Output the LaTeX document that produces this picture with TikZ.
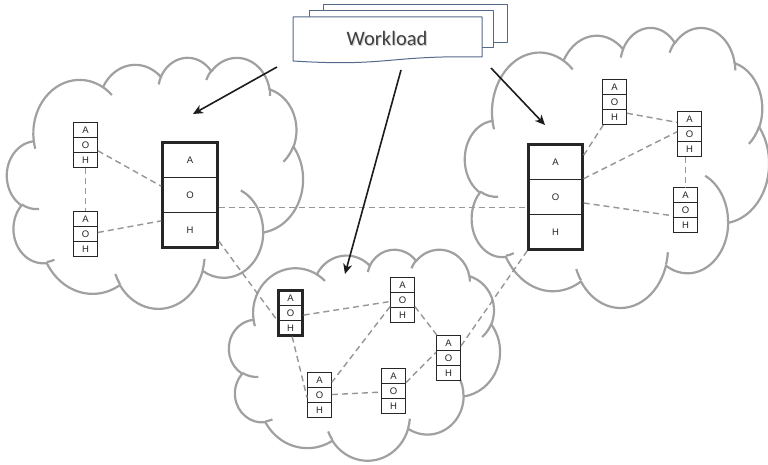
\documentclass[tikz,border=0pt]{standalone}
\usepackage{fontspec}
\setmainfont{Liberation Sans}
\newfontfamily\docfont{Carlito}
\usetikzlibrary{arrows.meta}

\definecolor{cloudgray}{RGB}{160,160,160}
\definecolor{linkgray}{RGB}{150,150,150}
\definecolor{docblue}{RGB}{84,106,140}
\definecolor{inkblack}{RGB}{28,28,28}
\definecolor{textgray}{RGB}{64,64,64}

% one elliptic arc of the cloud outline; the angles are given as the
% direction seen from the centre and turned into the ellipse parameter
\newcommand\carc[4]{arc[x radius=#1, y radius=#2, start angle={pa(#3,#1,#2)}, end angle={pa(#3+#4,#1,#2)}]}

% cloud filling the box with top left corner (#1,#2), width #3, height #4
\newcommand\cloudat[4]{%
  \begin{scope}[shift={(#1,#2)}, xscale=#3/432, yscale=#4/432]
    \filldraw[cloudline] (39.00,143.70)
      \carc{67.53}{91.90}{-190.4875}{123.7805}
      \carc{53.33}{72.67}{-144.1024}{89.9452}
      \carc{43.65}{59.45}{-145.8079}{99.7230}
      \carc{48.57}{65.95}{-130.9861}{117.2417}
      \carc{53.33}{72.73}{-78.7089}{109.0269}
      \carc{67.75}{92.20}{-46.2673}{130.2690}
      \carc{57.85}{78.67}{0.6250}{114.0333}
      \carc{67.52}{92.15}{22.4516}{115.1726}
      \carc{77.20}{105.43}{66.2426}{75.7110}
      \carc{43.60}{59.18}{-274.9421}{146.7356}
      \carc{43.45}{59.45}{-246.8285}{152.5189}
      -- cycle;
    \draw[cloudline, fill=none]
      (46.93,261.77) \carc{43.45}{59.45}{86.7420}{26.4295}
      (69.28,348.99) \carc{43.60}{59.18}{73.6105}{11.4475}
      (164.78,390.90) \carc{67.52}{92.15}{137.6242}{14.0811}
      (288.27,347.51) \carc{67.52}{92.15}{6.4533}{15.9984}
      (341.29,229.54) \carc{57.85}{78.67}{-70.2924}{70.9174}
      (417.98,153.54) \carc{53.33}{72.73}{30.3180}{27.7515}
      (383.24,54.26) \carc{48.57}{65.95}{-13.7443}{14.8589}
      (290.78,39.52) \carc{48.57}{65.95}{-149.1815}{18.1954}
      (221.41,47.20) \carc{43.65}{59.45}{-163.4943}{17.6864}
      (140.00,51.92) \carc{67.53}{91.90}{-66.7070}{12.3194}
      (41.27,157.89) \carc{67.53}{91.90}{157.6544}{11.8582};
  \end{scope}}

% A/O/H stack: name, centre x, centre y, width, cell height, frame style
\newcommand\stackbox[6]{%
  \node[cell, minimum width=#4pt, minimum height=#5pt] (#1a) at (#2,#3-#5) {A};
  \node[cell, minimum width=#4pt, minimum height=#5pt] (#1o) at (#2,#3) {O};
  \node[cell, minimum width=#4pt, minimum height=#5pt] (#1h) at (#2,#3+#5) {H};
  \node[#6, minimum width=#4pt, minimum height=3*#5pt] (#1) at (#2,#3) {};}

\begin{document}
\begin{tikzpicture}[x=1pt, y=-1pt,
  declare function={pa(\a,\rx,\ry)=(\a)+mod(atan2((\rx)*sin(\a),(\ry)*cos(\a))-(\a)+540,360)-180;},
  cloudline/.style={draw=cloudgray, line width=2.2pt, fill=white, line join=round},
  cell/.style={draw=black!85, line width=0.8pt, fill=white, inner sep=0pt,
    font=\fontsize{9.5}{10}\selectfont, text=black!85},
  smallframe/.style={draw=black!85, line width=0.9pt, inner sep=0pt},
  boldframe/.style={draw=black!85, line width=2.2pt, inner sep=0pt},
  bigframe/.style={draw=black!85, line width=2.4pt, inner sep=0pt},
  link/.style={draw=linkgray, line width=1.4pt, dash pattern=on 6pt off 4pt},
  flow/.style={draw=inkblack, line width=1.6pt, -{Stealth[length=10pt, width=9pt, inset=3pt]}},
  sheet/.style={draw=docblue, line width=1pt, fill=white, line join=round}]

\useasboundingbox (0,0) rectangle (768,465);

% the three clouds
\cloudat{7}{57}{296}{251}
\cloudat{465}{27}{304}{280}
\cloudat{229}{249}{271}{211}

% stacks in the left cloud
\stackbox{L1}{85.5}{145}{24}{15}{smallframe}
\stackbox{L2}{85.5}{234}{24}{15}{smallframe}
\stackbox{LB}{190}{195}{55}{35}{bigframe}

% stacks in the right cloud
\stackbox{R1}{614.5}{102}{24}{15}{smallframe}
\stackbox{R2}{689.5}{134}{24}{15}{smallframe}
\stackbox{R3}{685.5}{210}{24}{15}{smallframe}
\stackbox{RB}{555.5}{197}{54}{35}{bigframe}

% stacks in the bottom cloud
\stackbox{B1}{290.5}{313}{24}{15}{boldframe}
\stackbox{B2}{402.5}{300}{24}{15}{smallframe}
\stackbox{B3}{448.5}{358}{24}{15}{smallframe}
\stackbox{B4}{393.5}{391}{24}{15}{smallframe}
\stackbox{B5}{319.5}{395}{24}{15}{smallframe}

% dashed links between stacks
\draw[link] (L1.-25) -- (LB.163);
\draw[link] (L1.south) -- (L2.north);
\draw[link] (L2.7) -- (LB.222);
\draw[link] (LB.-24) -- (LB.-24 -| RB.west);
\draw[link] (LB.-58) -- (B1.210);
\draw[link] (RB.56) -- (R1.244);
\draw[link] (R1.-42) -- (R2.137);
\draw[link] (RB.33) -- (R2.170);
\draw[link] (R3.north |- R2.south) -- (R3.north);
\draw[link] (RB.-12) -- (R3.205);
\draw[link] (RB.south west) -- (B3.44);
\draw[link] (B1.-9) -- (B2.187);
\draw[link] (B1.-86) -- (B5.192);
\draw[link] (B2.208) -- (B5.46);
\draw[link] (B2.-28) -- (B3.117);
\draw[link] (B5.2) -- (B4.185);
\draw[link] (B4.34) -- (B3.155);

% workload: a pile of three sheets
\path[sheet] (323,5) rectangle (507,43);
\path[sheet] (309,11) rectangle (493,48);
\path[sheet] (293,17) -- (482,17) -- (482,57)
  .. controls (388,55) and (388,67) .. (293,61) -- cycle;
\node[font=\docfont\fontsize{20.5}{24}\selectfont, text=black!18, anchor=base]
  (wlshadow) at (388,47) {Workload};
\node[font=\docfont\fontsize{20.5}{24}\selectfont, text=textgray, anchor=base]
  (wl) at (387,45.7) {Workload};

% workload dispatched to the clouds
\coordinate (a1s) at (277,67);  \coordinate (a1e) at (193,114);
\coordinate (a2s) at (401,70);  \coordinate (a2e) at (345,274);
\coordinate (a3s) at (491,68);  \coordinate (a3e) at (545,125);
\draw[flow] (a1s) -- (a1e);
\draw[flow] (a2s) -- (a2e);
\draw[flow] (a3s) -- (a3e);
\end{tikzpicture}
\end{document}
